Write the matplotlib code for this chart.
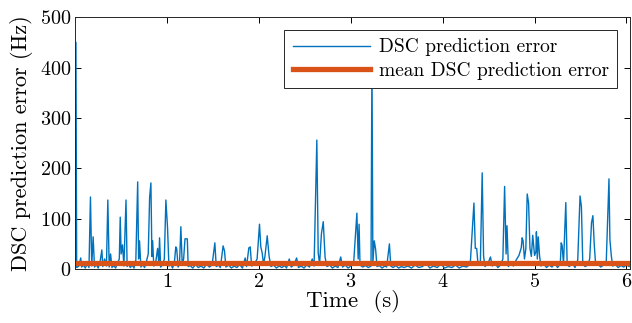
import numpy as np
import matplotlib
matplotlib.use("Agg")
import matplotlib.pyplot as plt

plt.rcParams["font.family"] = "serif"
plt.rcParams["font.serif"] = ["cmr10", "DejaVu Serif"]
plt.rcParams["mathtext.fontset"] = "cm"
plt.rcParams["axes.formatter.use_mathtext"] = True

# Temps (s) et erreur de prediction DSC (Hz)
time_s = [
    0.000, 0.008, 0.016, 0.04, 0.06, 0.07, 0.09, 0.11, 0.13, 0.15,
    0.166, 0.18, 0.195, 0.21, 0.23, 0.25, 0.27, 0.29, 0.30, 0.32,
    0.34, 0.355, 0.37, 0.385, 0.40, 0.42, 0.44, 0.46, 0.48, 0.49,
    0.50, 0.515, 0.53, 0.553, 0.565, 0.58, 0.60, 0.62, 0.64, 0.66,
    0.68, 0.69, 0.70, 0.715, 0.735, 0.755, 0.775, 0.795, 0.81, 0.824,
    0.835, 0.843, 0.855, 0.875, 0.897, 0.91, 0.918, 0.93, 0.95, 0.97,
    0.987, 1.005, 1.02, 1.04, 1.06, 1.08, 1.095, 1.105, 1.12, 1.135,
    1.15, 1.165, 1.18, 1.195, 1.21, 1.22, 1.23, 1.25, 1.28, 1.31,
    1.34, 1.37, 1.40, 1.43, 1.46, 1.49, 1.52, 1.535, 1.56, 1.58,
    1.61, 1.625, 1.64, 1.67, 1.70, 1.73, 1.76, 1.79, 1.82, 1.85,
    1.865, 1.89, 1.905, 1.92, 1.95, 1.98, 2.006, 2.02, 2.035, 2.05,
    2.065, 2.09, 2.11, 2.13, 2.16, 2.19, 2.22, 2.25, 2.28, 2.30,
    2.33, 2.35, 2.38, 2.41, 2.43, 2.46, 2.49, 2.52, 2.55, 2.58,
    2.60, 2.63, 2.645, 2.66, 2.68, 2.70, 2.72, 2.74, 2.77, 2.80,
    2.83, 2.86, 2.89, 2.91, 2.94, 2.97, 3.00, 3.03, 3.066, 3.08,
    3.09, 3.10, 3.13, 3.16, 3.19, 3.22, 3.23, 3.24, 3.255, 3.27,
    3.285, 3.31, 3.34, 3.37, 3.39, 3.42, 3.435, 3.46, 3.49, 3.52,
    3.55, 3.58, 3.62, 3.66, 3.70, 3.74, 3.78, 3.82, 3.86, 3.90,
    3.94, 3.98, 4.02, 4.06, 4.10, 4.14, 4.18, 4.22, 4.26, 4.30,
    4.34, 4.355, 4.37, 4.385, 4.41, 4.43, 4.445, 4.46, 4.49, 4.52,
    4.54, 4.57, 4.60, 4.63, 4.655, 4.674, 4.69, 4.70, 4.715, 4.74,
    4.77, 4.80, 4.83, 4.855, 4.865, 4.875, 4.89, 4.905, 4.92, 4.935,
    4.95, 4.965, 4.98, 5.00, 5.015, 5.02, 5.03, 5.04, 5.055, 5.07,
    5.10, 5.13, 5.16, 5.19, 5.22, 5.25, 5.28, 5.29, 5.30, 5.315,
    5.34, 5.355, 5.38, 5.41, 5.44, 5.47, 5.495, 5.51, 5.525, 5.55,
    5.58, 5.60, 5.62, 5.635, 5.65, 5.665, 5.69, 5.72, 5.75, 5.78,
    5.81, 5.82, 5.835, 5.85, 5.88, 5.91, 5.94, 5.97, 6.00, 6.03,
]
error_hz = [
    5, 450, 3, 6, 22, 4, 8, 2, 10, 3,
    143, 6, 64, 4, 9, 2, 14, 38, 5, 20,
    6, 137, 4, 30, 3, 7, 2, 12, 20, 103,
    30, 48, 6, 137, 5, 10, 3, 8, 2, 18,
    173, 20, 56, 4, 9, 3, 15, 30, 142, 171,
    25, 56, 6, 12, 41, 10, 62, 4, 8, 20,
    137, 82, 6, 10, 2, 14, 44, 40, 4, 9,
    84, 8, 20, 60, 60, 60, 5, 7, 2, 9,
    3, 6, 2, 10, 4, 8, 52, 5, 8, 3,
    46, 36, 4, 8, 2, 6, 3, 9, 2, 22,
    5, 42, 44, 6, 10, 20, 89, 44, 32, 10,
    25, 66, 26, 5, 8, 2, 6, 3, 7, 2,
    20, 4, 8, 22, 3, 6, 2, 8, 4, 20,
    6, 256, 32, 10, 70, 94, 23, 5, 8, 2,
    6, 3, 24, 4, 8, 2, 6, 10, 111, 20,
    89, 8, 4, 7, 3, 6, 420, 12, 56, 39,
    5, 7, 2, 6, 4, 50, 6, 3, 7, 2,
    5, 3, 6, 2, 8, 3, 5, 12, 2, 6,
    3, 10, 2, 5, 3, 8, 2, 6, 4, 10,
    131, 41, 41, 8, 12, 191, 26, 5, 10, 24,
    6, 12, 3, 8, 20, 164, 30, 86, 5, 12,
    6, 18, 27, 42, 62, 56, 20, 40, 149, 131,
    41, 25, 67, 27, 35, 74, 20, 64, 25, 6,
    10, 3, 8, 4, 12, 3, 10, 52, 47, 10,
    132, 8, 5, 12, 3, 18, 145, 124, 10, 5,
    8, 20, 92, 106, 48, 8, 10, 4, 8, 12,
    179, 59, 27, 6, 9, 3, 7, 4, 8, 5,
]
mean_error = 13

blue = "#0072BD"
orange = "#D95319"

fig = plt.figure(figsize=(6.32, 3.23), dpi=100)
ax = fig.add_axes([0.119, 0.167, 0.878, 0.780])

ax.plot(time_s, error_hz, color=blue, lw=1.0, label="DSC prediction error")
ax.plot([0, 6.04], [mean_error, mean_error], color=orange, lw=3.8,
        label="mean DSC prediction error")

ax.set_xlim(0, 6.04)
ax.set_ylim(0, 500)
ax.set_xticks([1, 2, 3, 4, 5, 6])
ax.set_yticks([0, 100, 200, 300, 400, 500])
ax.tick_params(direction="in", top=True, right=True, labelsize=14.5,
               length=4, width=0.7, pad=3)
for s in ax.spines.values():
    s.set_linewidth(0.7)
    s.set_color("#262626")

ax.set_xlabel("Time  (s)", fontsize=16.5, labelpad=-1)
ax.set_ylabel("DSC prediction error (Hz)", fontsize=16, labelpad=5)

leg = ax.legend(loc="upper right", bbox_to_anchor=(0.977, 0.948),
                borderaxespad=0, fontsize=14,
                handlelength=4.0, handletextpad=0.45, borderpad=0.42,
                labelspacing=0.28, fancybox=False, framealpha=1,
                edgecolor="#262626")
leg.get_frame().set_linewidth(0.7)

fig.savefig("out.png", dpi=100)
